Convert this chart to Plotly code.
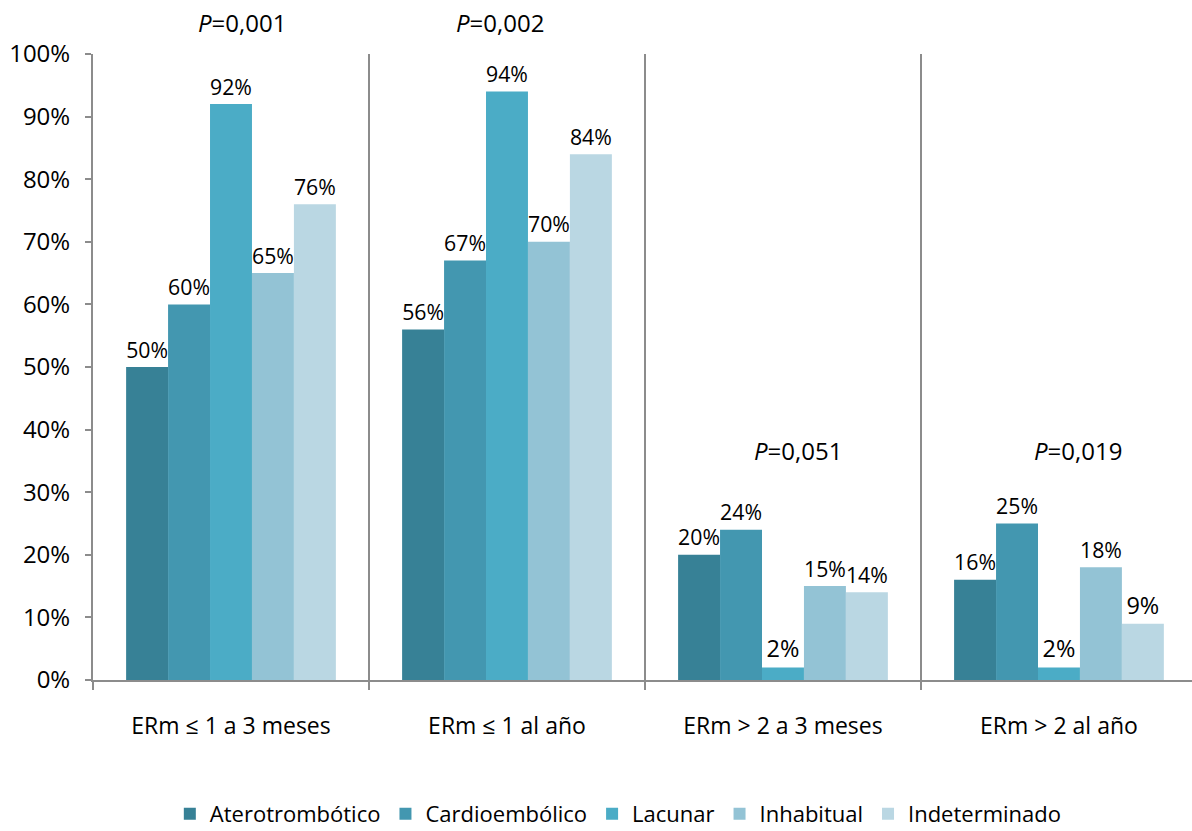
import plotly.graph_objects as go

# Categories (x axis) and stroke-subtype series
categories = ["ERm ≤ 1 a 3 meses", "ERm ≤ 1 al año", "ERm > 2 a 3 meses", "ERm > 2 al año"]
series_names = ["Aterotrombótico", "Cardioembólico", "Lacunar", "Inhabitual", "Indeterminado"]

aterotrombotico = [0.50, 0.56, 0.20, 0.16]
cardioembolico = [0.60, 0.67, 0.24, 0.25]
lacunar = [0.92, 0.94, 0.02, 0.02]
inhabitual = [0.65, 0.70, 0.15, 0.18]
indeterminado = [0.76, 0.84, 0.14, 0.09]

p_values = ["0,001", "0,002", "0,051", "0,019"]
p_x = [0.04, 0.975, 2.054, 3.069]
p_y = [1.051, 1.051, 0.367, 0.367]

colors = ["#378196", "#4397B0", "#4BACC6", "#93C3D5", "#BAD7E3"]
FONT = "Open Sans"

fig = go.Figure()
for name, vals, col in zip(series_names,
                           [aterotrombotico, cardioembolico, lacunar, inhabitual, indeterminado],
                           colors):
    fig.add_trace(go.Bar(
        name=name,
        x=categories,
        y=vals,
        marker=dict(color=col, line=dict(width=0)),
        texttemplate="%{y:.0%}",
        textposition="outside",
        textfont=dict(family=FONT, size=23.5, color="#000000"),
        cliponaxis=False,
    ))

# P-value labels; the y axis spans 0..1, so paper coordinates equal data values
for txt, x, y in zip(p_values, p_x, p_y):
    fig.add_annotation(x=x, y=y, xref="x", yref="paper", text="<i>P</i>=" + txt,
                       xanchor="center", yanchor="middle",
                       showarrow=False, font=dict(family=FONT, size=24, color="#000000"))

fig.update_layout(
    width=1192, height=831,
    margin=dict(l=93, r=0, t=54, b=151, autoexpand=False),
    paper_bgcolor="white", plot_bgcolor="white",
    barmode="group", bargap=0.24, bargroupgap=0,
    font=dict(family=FONT, size=23, color="#000000"),
    showlegend=True,
    legend=dict(orientation="h", x=0.478, xanchor="center", y=-0.214, yanchor="middle",
                font=dict(family=FONT, size=22, color="#000000"),
                itemwidth=30, traceorder="normal"),
    uniformtext=dict(mode=False),
)
fig.update_xaxes(
    type="category",
    range=[-0.5, 3.482],
    automargin=False,
    showline=True, linecolor="#8C8C8C", linewidth=2,
    showgrid=True, gridcolor="#8C8C8C", gridwidth=2,
    tickson="boundaries", ticks="outside", ticklen=8, tickcolor="#8C8C8C", tickwidth=2,
    ticklabelstandoff=24,
    tickfont=dict(family=FONT, size=23, color="#000000"),
    zeroline=False,
)
fig.update_yaxes(
    range=[0, 1], tickvals=[i / 10 for i in range(11)], tickformat=".0%",
    automargin=False,
    showline=True, linecolor="#8C8C8C", linewidth=2,
    showgrid=False, zeroline=False,
    ticks="outside", ticklen=6, tickcolor="#8C8C8C", tickwidth=2,
    ticklabelstandoff=10,
    tickfont=dict(family=FONT, size=24, color="#000000"),
)

fig.write_html("out.html")
